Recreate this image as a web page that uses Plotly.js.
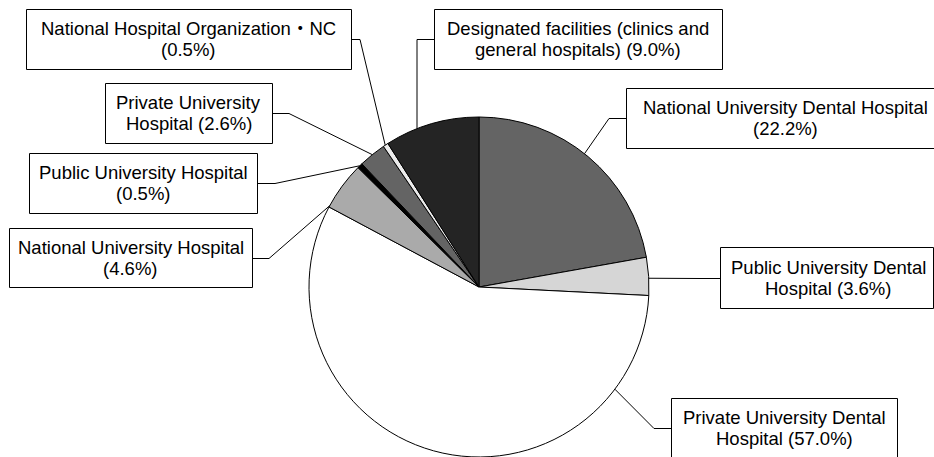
<!DOCTYPE html>
<html>
<head>
<meta charset="utf-8">
<script src="https://cdn.plot.ly/plotly-3.0.1.min.js"></script>
<style>
  html, body { margin: 0; padding: 0; background: #ffffff; }
  #chart { width: 934px; height: 457px; }
</style>
</head>
<body>
<div id="chart"></div>
<script>
// Share of facilities, clockwise from 12 o'clock
const categories = [
  "National University Dental Hospital",
  "Public University Dental Hospital",
  "Private University Dental Hospital",
  "National University Hospital",
  "Public University Hospital",
  "Private University Hospital",
  "National Hospital Organization・NC",
  "Designated facilities (clinics and general hospitals)"
];
const shares = [22.2, 3.6, 57.0, 4.6, 0.5, 2.6, 0.5, 9.0];
const sliceColors = ["#646464", "#d6d6d6", "#ffffff", "#aaaaaa", "#000000", "#646464", "#ececec", "#242424"];

// Two-line callout text; the second line ends with the share
const labelLine1 = [
  "National University Dental Hospital",
  "Public University Dental",
  "Private University Dental",
  "National University Hospital",
  "Public University Hospital",
  "Private University",
  "National Hospital Organization・NC",
  "Designated facilities (clinics and"
];
const labelLine2Prefix = ["", "Hospital ", "Hospital ", "", "", "Hospital ", "", "general hospitals) "];

// Canvas and pie geometry in pixels
const W = 934, H = 457;
const CX = 479, CY = 287, R = 170;

// Callout boxes [x0, y0, x1, y1], text centre x, leader elbow x, and
// where along its slice (0..1) each leader touches the rim
const boxes = [
  [626, 88, 944, 148],
  [720, 247, 933, 308],
  [671, 398, 897, 458],
  [9, 228, 252, 287],
  [29, 153, 257, 213],
  [105, 83, 272, 143],
  [26, 9, 351, 69],
  [434, 9, 722, 69]
];
const textCenterX = [785, 828, 784, 130.5, 143, 188.5, 188.5, 578];
const elbowX = [609, 700, 654, 269, 275, 289, 360, 417];
const rimFraction = [0.48, 0.55, 0.166, 0.03, 0.48, 0.5, 0.4, 0.34];

const px = x => x / W;
const py = y => 1 - y / H;

const total = shares.reduce((a, b) => a + b, 0);
const starts = [];
shares.reduce((acc, v) => { starts.push(acc); return acc + v; }, 0);

const shapes = [];
const annotations = [];
const FONT = { family: "Arial, 'Liberation Sans', 'Noto Sans CJK JP', sans-serif", size: 18.5, color: "#000000" };

boxes.forEach((b, i) => {
  const [x0, y0, x1, y1] = b;
  const midY = (y0 + y1) / 2;
  // leader: box side -> elbow -> slice rim
  const onLeft = elbowX[i] < x0;
  const sx = onLeft ? x0 : x1;
  const theta = 2 * Math.PI * (starts[i] + rimFraction[i] * shares[i]) / total;
  const tx = CX + R * Math.sin(theta);
  const ty = CY - R * Math.cos(theta);
  const ey = Math.round(midY) + 0.5;
  shapes.push({
    type: "path", xref: "paper", yref: "paper", layer: "above",
    path: `M ${px(sx)},${py(ey)} L ${px(elbowX[i])},${py(ey)} L ${px(tx)},${py(ty)}`,
    line: { color: "#000000", width: 1 }
  });
  shapes.push({
    type: "rect", xref: "paper", yref: "paper", layer: "above",
    x0: px(x0 + 0.5), x1: px(x1 + 0.5), y0: py(y0 + 0.5), y1: py(y1 + 0.5),
    fillcolor: "#ffffff", line: { color: "#000000", width: 1 }
  });
  const line2 = labelLine2Prefix[i] + "(" + shares[i].toFixed(1) + "%)";
  [[labelLine1[i], midY - 10.5], [line2, midY + 10.5]].forEach(([t, y]) => {
    annotations.push({
      xref: "paper", yref: "paper", x: px(textCenterX[i]), y: py(y),
      xanchor: "center", yanchor: "middle", showarrow: false,
      text: t, font: FONT
    });
  });
});

const trace = {
  type: "pie",
  labels: categories,
  values: shares,
  sort: false,
  direction: "clockwise",
  rotation: 0,
  textinfo: "none",
  hoverinfo: "label+percent",
  showlegend: false,
  marker: { colors: sliceColors, line: { color: "#000000", width: 1 } },
  domain: { x: [px(CX - R), px(CX + R)], y: [py(CY + R), py(CY - R)] }
};

const layout = {
  width: W, height: H,
  margin: { l: 0, r: 0, t: 0, b: 0 },
  paper_bgcolor: "#ffffff",
  showlegend: false,
  shapes: shapes,
  annotations: annotations
};

Plotly.newPlot("chart", [trace], layout, { displayModeBar: false, staticPlot: true });
</script>
</body>
</html>
